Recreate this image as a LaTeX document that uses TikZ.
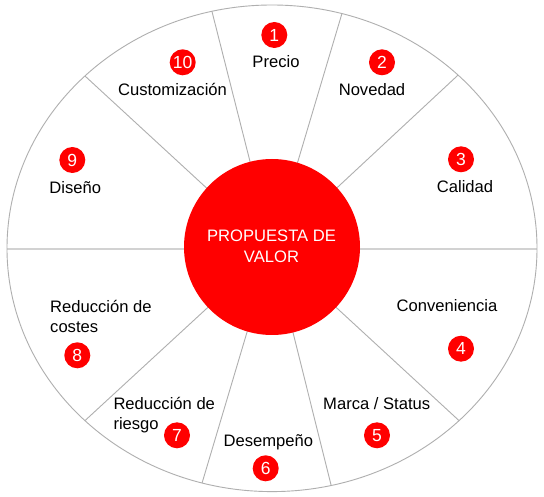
\documentclass[tikz,border=0pt]{standalone}
\usepackage{fontspec}
\setmainfont{Liberation Sans}
\definecolor{vred}{RGB}{255,0,0}
\definecolor{rline}{RGB}{175,175,175}
\definecolor{hline}{RGB}{210,210,210}
\tikzset{
  lbl/.style={anchor=base, inner sep=0pt, font=\fontsize{16.6}{20}\selectfont, text=black},
  lblw/.style={anchor=base west, inner sep=0pt, font=\fontsize{16.6}{20}\selectfont, text=black},
  num/.style={circle, fill=vred, minimum size=26pt, inner sep=0pt, text=white, font=\fontsize{17.5}{18}\selectfont},
  radial/.style={draw=rline, line width=0.9pt},
}
\begin{document}
\begin{tikzpicture}[x=1pt,y=-1pt]
\useasboundingbox (0,0) rectangle (544,497);
\fill[white] (0,0) rectangle (544,497);
\coordinate (c) at (272,248.3);
\coordinate (a1) at ({272+265*cos(103.1)},{248.3-243.3*sin(103.1)});
\coordinate (a2) at ({272+265*cos(74.7)},{248.3-243.3*sin(74.7)});
\coordinate (a3) at ({272+265*cos(45.4)},{248.3-243.3*sin(45.4)});
\coordinate (a4) at ({272+265*cos(-45.1)},{248.3-243.3*sin(-45.1)});
\coordinate (a5) at ({272+265*cos(-77.1)},{248.3-243.3*sin(-77.1)});
\coordinate (a6) at ({272+265*cos(-105.3)},{248.3-243.3*sin(-105.3)});
\coordinate (a7) at ({272+265*cos(-134.9)},{248.3-243.3*sin(-134.9)});
\coordinate (a8) at ({272+265*cos(134.9)},{248.3-243.3*sin(134.9)});
\coordinate (hl) at (7,248.8);
\coordinate (hr) at (537,248.8);
% horizontal divider
\draw[draw=hline, line width=2pt] (hl) -- (hr);
% radial dividers
\foreach \p in {a1,a2,a3,a4,a5,a6,a7,a8} \draw[radial] (c) -- (\p);
% outer ellipse
\draw[draw=rline, line width=0.9pt] (c) ellipse [x radius=265, y radius=243.3];
% centre
\node[circle, fill=vred, minimum size=176pt, inner sep=0pt] (core) at (272,247) {};
\node[lbl, text=white] (t1) at (271.5,241.7) {PROPUESTA DE};
\node[lbl, text=white] (t2) at (271.5,262.7) {VALOR};
% segments
\node[num] (n1) at (274.3,35) {1};
\node[lbl] (l1) at (276,67.3) {Precio};
\node[num] (n2) at (382,62.3) {2};
\node[lbl] (l2) at (372,96) {Novedad};
\node[num] (n3) at (461,159.3) {3};
\node[lbl] (l3) at (465,192.7) {Calidad};
\node[num] (n4) at (461,348.7) {4};
\node[lbl] (l4) at (447,312) {Conveniencia};
\node[num] (n5) at (377,435.3) {5};
\node[lbl] (l5) at (376.7,409) {Marca / Status};
\node[num] (n6) at (265.7,468.3) {6};
\node[lbl] (l6) at (268.3,446.7) {Desempeño};
\node[num] (n7) at (177,435.3) {7};
\node[lblw] (l7a) at (113.3,409) {Reducción de};
\node[lblw] (l7b) at (113.3,429) {riesgo};
\node[num] (n8) at (77.3,355.3) {8};
\node[lblw] (l8a) at (50,312.3) {Reducción de};
\node[lblw] (l8b) at (50,332.3) {costes};
\node[num] (n9) at (72.3,160) {9};
\node[lbl] (l9) at (75.3,193.3) {Diseño};
\node[num] (n10) at (182.7,62.3) {10};
\node[lbl] (l10) at (172.5,96) {Customización};
\end{tikzpicture}
\end{document}
